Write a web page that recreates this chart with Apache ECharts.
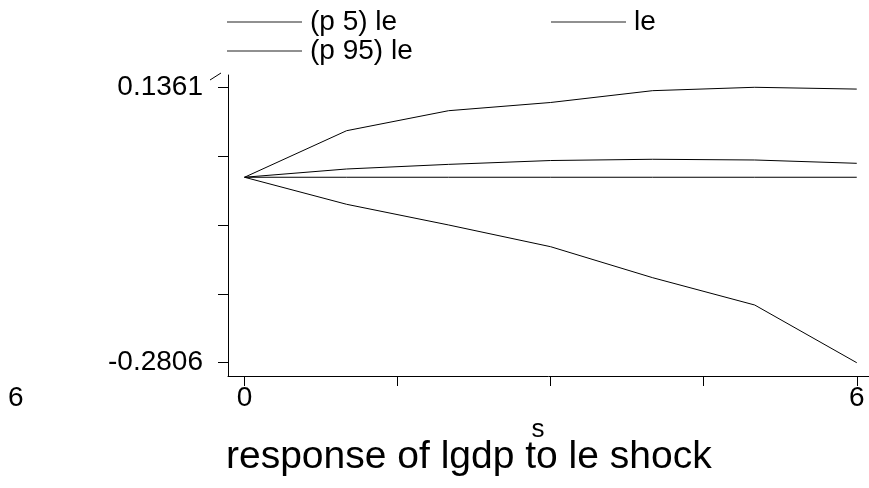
<!DOCTYPE html>
<html>
<head>
<meta charset="utf-8">
<script src="https://cdn.jsdelivr.net/npm/echarts@6/dist/echarts.min.js"></script>
<style>
html,body{margin:0;padding:0;background:#fff;}
#chart{width:869px;height:488px;}
</style>
</head>
<body>
<div id="chart"></div>
<script>
// Data (step s = 0..6)
const steps = [0, 1, 2, 3, 4, 5, 6];
const p5le  = [0, -0.0409, -0.0722, -0.1051, -0.1520, -0.1933, -0.2806];
const le    = [0, 0.0125, 0.0195, 0.0253, 0.0272, 0.0261, 0.0211];
const p95le = [0, 0.0704, 0.1007, 0.1131, 0.1310, 0.1361, 0.1334];
const zeroRef = [0, 0, 0, 0, 0, 0, 0];

const yTickValues = [0.1361, 0.0319, -0.0722, -0.1764, -0.2806];
const yLabelValues = [0.1361, -0.2806];
const xTickValues = [0, 1.5, 3, 4.5, 6];
const xLabelValues = [0, 6];

const seriesNames = ['(p 5) le', 'le', '(p 95) le'];
const titleText = 'response of lgdp to le shock';
const xName = 's';

const FONT = '"Liberation Sans", Arial, Helvetica, sans-serif';
const ink = '#000';

function pairs(ys) { return steps.map((s, i) => [s, ys[i]]); }

const chart = echarts.init(document.getElementById('chart'), null, {renderer: 'canvas'});

const lineSeries = (name, ys) => ({
  name: name,
  type: 'line',
  data: pairs(ys),
  symbol: 'none',
  showSymbol: false,
  lineStyle: {color: ink, width: 1},
  itemStyle: {color: ink},
  silent: true,
  z: 3
});

const legendCommon = {
  orient: 'horizontal',
  icon: 'rect',
  itemWidth: 75,
  itemHeight: 1,
  padding: 0,
  selectedMode: false,
  itemStyle: {color: '#222'},
  textStyle: {fontFamily: FONT, fontSize: 28, color: ink, lineHeight: 28, padding: [0, 0, 0, 3]}
};

chart.setOption({
  animation: false,
  backgroundColor: '#fff',
  textStyle: {fontFamily: FONT},
  title: {
    text: titleText,
    left: 226,
    top: 438,
    padding: 0,
    textStyle: {fontFamily: FONT, fontSize: 39, fontWeight: 'normal', color: ink, lineHeight: 39}
  },
  legend: [
    Object.assign({}, legendCommon, {data: [seriesNames[0]], left: 227, top: 8}),
    Object.assign({}, legendCommon, {data: [seriesNames[1]], left: 551, top: 8}),
    Object.assign({}, legendCommon, {data: [seriesNames[2]], left: 227, top: 37})
  ],
  grid: {left: 228, top: 75, right: 0, bottom: 112, containLabel: false},
  xAxis: {
    type: 'value',
    min: -0.162,
    max: 6.12,
    name: xName,
    nameLocation: 'middle',
    nameGap: 36,
    nameTextStyle: {fontFamily: FONT, fontSize: 26, color: ink, padding: [0, 21, 0, 0]},
    axisLine: {show: true, onZero: false, lineStyle: {color: ink, width: 1}},
    axisTick: {show: true, inside: false, length: 10, customValues: xTickValues, lineStyle: {color: ink, width: 1}},
    axisLabel: {show: true, margin: 8, customValues: xLabelValues, fontFamily: FONT, fontSize: 28, color: ink, showMinLabel: true, showMaxLabel: true},
    splitLine: {show: false}
  },
  yAxis: {
    type: 'value',
    min: -0.3007,
    max: 0.1547,
    axisLine: {show: true, onZero: false, lineStyle: {color: ink, width: 1}},
    axisTick: {show: true, inside: false, length: 10, customValues: yTickValues, lineStyle: {color: ink, width: 1}},
    axisLabel: {show: true, margin: 25, customValues: yLabelValues, fontFamily: FONT, fontSize: 28, color: ink,
      formatter: v => v.toFixed(4)},
    splitLine: {show: false}
  },
  graphic: [
    {type: 'line', shape: {x1: 210, y1: 80, x2: 221, y2: 73}, style: {stroke: ink, lineWidth: 1}, silent: true},
    {type: 'text', left: 8, top: 384, style: {text: '6', font: '28px ' + FONT, fill: ink}, silent: true}
  ],
  series: [
    lineSeries(seriesNames[0], p5le),
    lineSeries(seriesNames[1], le),
    lineSeries(seriesNames[2], p95le),
    Object.assign(lineSeries('zero', zeroRef), {z: 2})
  ]
});
</script>
</body>
</html>
